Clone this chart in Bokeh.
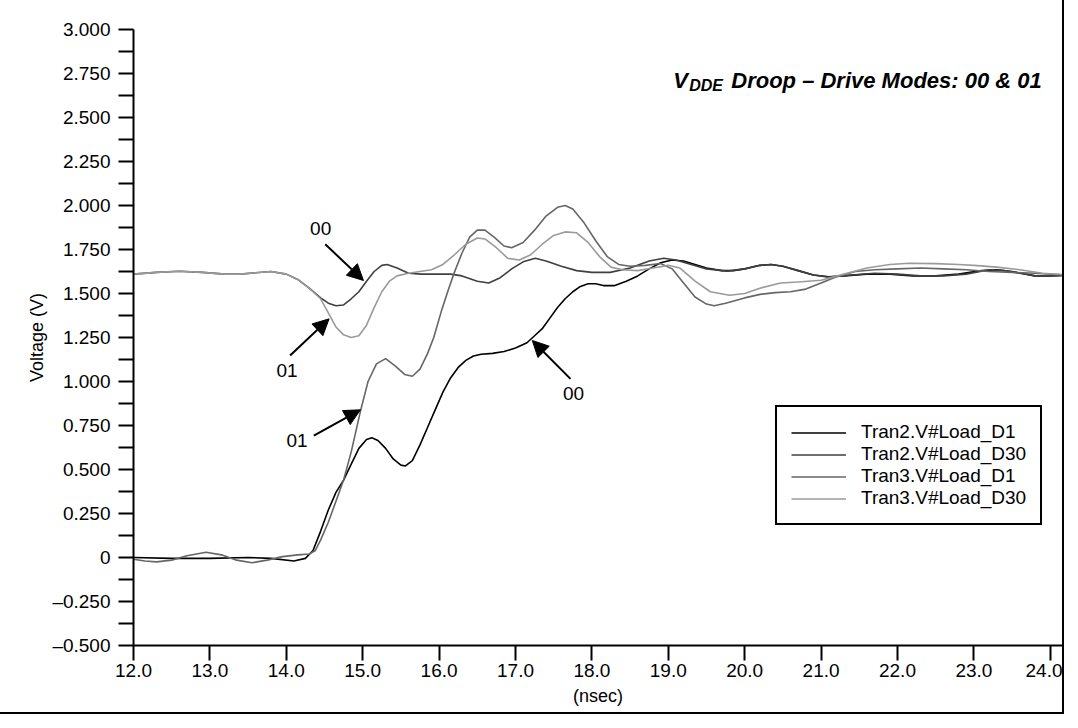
from bokeh.plotting import figure
from bokeh.models import (FixedTicker, Arrow, NormalHead, Legend, LegendItem,
                          Range1d, CustomJSTickFormatter)
from bokeh.embed import file_html
from bokeh.resources import INLINE
from bokeh.core.properties import value

# ---------------- data ----------------
t_tran2_d1 = [12.0, 12.5, 13.0, 13.5, 13.8, 14.1, 14.25, 14.35, 14.45, 14.55, 14.65, 14.75,
              14.85, 14.95, 15.05, 15.12, 15.2, 15.3, 15.4, 15.5, 15.56, 15.65, 15.75, 15.85,
              15.95, 16.05, 16.15, 16.25, 16.35, 16.45, 16.55, 16.7, 16.85, 17.0, 17.15, 17.25,
              17.35, 17.45, 17.55, 17.65, 17.75, 17.85, 17.95, 18.05, 18.15, 18.3, 18.45, 18.6,
              18.75, 18.9, 19.05, 19.2, 19.35, 19.5, 19.7, 19.85, 20.0, 20.2, 20.35, 20.5, 20.7,
              20.9, 21.1, 21.3, 21.6, 21.9, 22.2, 22.5, 22.8, 23.1, 23.3, 23.5, 23.8, 24.0, 24.24]
v_tran2_d1 = [0.0, -0.005, -0.005, 0.0, -0.005, -0.02, -0.005, 0.04, 0.15, 0.27, 0.37, 0.44,
              0.53, 0.62, 0.67, 0.68, 0.665, 0.62, 0.56, 0.525, 0.52, 0.55, 0.64, 0.74,
              0.84, 0.94, 1.02, 1.08, 1.12, 1.145, 1.155, 1.16, 1.17, 1.19, 1.22, 1.26,
              1.30, 1.36, 1.42, 1.47, 1.51, 1.54, 1.555, 1.555, 1.545, 1.545, 1.57, 1.60,
              1.64, 1.675, 1.69, 1.685, 1.665, 1.645, 1.63, 1.63, 1.64, 1.66, 1.665, 1.655, 1.63,
              1.605, 1.595, 1.60, 1.61, 1.61, 1.60, 1.60, 1.61, 1.63, 1.635, 1.625, 1.60, 1.60, 1.605]

t_tran2_d30 = [12.0, 12.3, 12.6, 12.9, 13.2, 13.4, 13.6, 13.8, 14.0, 14.15, 14.3, 14.45, 14.55,
               14.65, 14.75, 14.85, 14.95, 15.05, 15.15, 15.25, 15.32, 15.45, 15.6, 15.76, 16.0,
               16.15, 16.3, 16.5, 16.65, 16.8, 16.95, 17.1, 17.26, 17.4, 17.6, 17.8, 18.0, 18.24,
               18.5, 18.75, 18.94, 19.1, 19.3, 19.5, 19.77, 20.0, 20.2, 20.34, 20.5, 20.7, 20.9,
               21.1, 21.4, 21.7, 22.0, 22.3, 22.6, 22.9, 23.2, 23.4, 23.6, 23.8, 24.0, 24.24]
v_tran2_d30 = [1.61, 1.62, 1.626, 1.62, 1.61, 1.61, 1.618, 1.625, 1.61, 1.58, 1.53, 1.475, 1.445,
               1.43, 1.435, 1.47, 1.51, 1.57, 1.625, 1.66, 1.665, 1.645, 1.615, 1.61, 1.61,
               1.61, 1.60, 1.57, 1.56, 1.59, 1.64, 1.68, 1.70, 1.685, 1.655, 1.63, 1.62, 1.62,
               1.645, 1.685, 1.70, 1.69, 1.665, 1.64, 1.627, 1.64, 1.66, 1.665, 1.655, 1.63, 1.605,
               1.593, 1.605, 1.615, 1.61, 1.60, 1.60, 1.61, 1.635, 1.63, 1.615, 1.60, 1.60, 1.605]

t_tran3_d1 = [12.0, 12.15, 12.3, 12.5, 12.7, 12.95, 13.15, 13.35, 13.55, 13.75, 13.95, 14.15,
              14.3, 14.38, 14.45, 14.55, 14.65, 14.75, 14.85, 14.97, 15.07, 15.18, 15.3, 15.42,
              15.55, 15.65, 15.75, 15.85, 15.93, 16.03, 16.12, 16.2, 16.3, 16.4, 16.5, 16.6,
              16.72, 16.85, 16.95, 17.1, 17.25, 17.4, 17.55, 17.65, 17.75, 17.9, 18.05, 18.2,
              18.35, 18.5, 18.7, 18.9, 19.05, 19.2, 19.35, 19.5, 19.6, 19.75, 20.0, 20.2, 20.4,
              20.6, 20.8, 21.0, 21.2, 21.45, 21.7, 22.0, 22.3, 22.6, 22.9, 23.2, 23.5, 23.8, 24.0, 24.24]
v_tran3_d1 = [-0.01, -0.02, -0.025, -0.015, 0.01, 0.03, 0.015, -0.015, -0.03, -0.015, 0.005, 0.015,
              0.02, 0.04, 0.10, 0.20, 0.32, 0.44, 0.60, 0.83, 1.0, 1.10, 1.13, 1.09,
              1.04, 1.03, 1.07, 1.16, 1.25, 1.40, 1.52, 1.62, 1.73, 1.82, 1.86, 1.86,
              1.82, 1.77, 1.76, 1.79, 1.86, 1.94, 1.99, 2.0, 1.98, 1.90, 1.80, 1.71,
              1.665, 1.655, 1.66, 1.67, 1.64, 1.56, 1.48, 1.44, 1.43, 1.445, 1.475, 1.495, 1.505,
              1.51, 1.525, 1.56, 1.595, 1.625, 1.635, 1.64, 1.645, 1.64, 1.635, 1.625, 1.62, 1.615, 1.61, 1.605]

t_tran3_d30 = [12.0, 12.3, 12.6, 12.9, 13.2, 13.4, 13.6, 13.8, 14.0, 14.15, 14.3, 14.45, 14.55,
               14.65, 14.75, 14.85, 14.95, 15.05, 15.15, 15.25, 15.35, 15.45, 15.6, 15.75, 15.9,
               16.05, 16.2, 16.35, 16.5, 16.6, 16.75, 16.9, 17.05, 17.2, 17.35, 17.5, 17.65, 17.8,
               17.95, 18.1, 18.25, 18.4, 18.6, 18.8, 19.0, 19.15, 19.35, 19.55, 19.8, 20.0, 20.2,
               20.47, 20.7, 21.0, 21.3, 21.6, 21.9, 22.15, 22.5, 22.8, 23.0, 23.3, 23.6, 23.9, 24.24]
v_tran3_d30 = [1.61, 1.62, 1.626, 1.62, 1.61, 1.61, 1.618, 1.625, 1.61, 1.58, 1.53, 1.47, 1.39,
               1.31, 1.265, 1.25, 1.26, 1.32, 1.42, 1.51, 1.57, 1.60, 1.615, 1.625, 1.635,
               1.665, 1.72, 1.78, 1.815, 1.81, 1.76, 1.70, 1.69, 1.72, 1.78, 1.83, 1.85, 1.845,
               1.79, 1.71, 1.65, 1.635, 1.63, 1.645, 1.66, 1.645, 1.57, 1.51, 1.49, 1.50, 1.53,
               1.56, 1.565, 1.575, 1.61, 1.645, 1.665, 1.672, 1.67, 1.665, 1.66, 1.65, 1.635, 1.615, 1.605]

series_names = ["Tran2.V#Load_D1", "Tran2.V#Load_D30", "Tran3.V#Load_D1", "Tran3.V#Load_D30"]
series_colors = ["#000000", "#3f3f3f", "#666666", "#9a9a9a"]

x_ticks = [12.0, 13.0, 14.0, 15.0, 16.0, 17.0, 18.0, 19.0, 20.0, 21.0, 22.0, 23.0, 24.0]
y_ticks = [-0.5, -0.25, 0.0, 0.25, 0.5, 0.75, 1.0, 1.25, 1.5, 1.75, 2.0, 2.25, 2.5, 2.75, 3.0]
y_minor = [-0.375, -0.125, 0.125, 0.375, 0.625, 0.875, 1.125, 1.375, 1.625, 1.875, 2.125,
           2.375, 2.625, 2.875]

# annotations: label text, label position, arrow tail, arrow head
ann_text = ["00", "01", "01", "00"]
ann_label_x = [14.45, 14.01, 14.14, 17.76]
ann_label_y = [1.87, 1.06, 0.665, 0.93]
ann_tail_x = [14.51, 14.05, 14.36, 17.72]
ann_tail_y = [1.78, 1.148, 0.693, 1.015]
ann_head_x = [15.01, 14.56, 14.97, 17.22]
ann_head_y = [1.574, 1.356, 0.839, 1.233]

FONT = "Liberation Sans"

p = figure(width=1062, height=712, x_range=Range1d(12, 24.16), y_range=Range1d(-0.5, 3.0),
           output_backend="svg", toolbar_location=None,
           min_border_left=133, min_border_right=0, min_border_top=29, min_border_bottom=67)
p.outline_line_color = None
p.grid.visible = False
p.background_fill_color = "white"
p.border_fill_color = "white"
p.styles = {"outline": "2px solid black"}

# axes
for ax in (p.xaxis[0], p.yaxis[0]):
    ax.axis_line_width = 2
    ax.major_tick_line_width = 2
    ax.minor_tick_line_width = 2
    ax.major_tick_in = 0
    ax.major_tick_out = 15
    ax.minor_tick_in = 0
    ax.minor_tick_out = 15
    ax.major_label_text_font = FONT
    ax.major_label_text_font_size = "19px"
    ax.major_label_text_color = "black"
    ax.axis_label_text_font = FONT
    ax.axis_label_text_font_size = "18px"
    ax.axis_label_text_font_style = "normal"
    ax.axis_label_text_color = "black"

p.xaxis.ticker = FixedTicker(ticks=x_ticks, minor_ticks=[])
p.xaxis.formatter = CustomJSTickFormatter(code="return tick.toFixed(1);")
p.xaxis.minor_tick_line_color = None
p.xaxis.axis_label = "(nsec)"
p.xaxis.major_label_standoff = 3
p.xaxis.axis_label_standoff = 6

p.yaxis.ticker = FixedTicker(ticks=y_ticks, minor_ticks=y_minor)
p.yaxis.formatter = CustomJSTickFormatter(
    code="if (Math.abs(tick) < 1e-9) return '0'; var s = Math.abs(tick).toFixed(3); return tick < 0 ? '\u2013' + s : s;")
p.yaxis.axis_label = "Voltage (V)"
p.yaxis.major_label_standoff = 8
p.yaxis.axis_label_standoff = 2

# series
all_t = [t_tran2_d1, t_tran2_d30, t_tran3_d1, t_tran3_d30]
all_v = [v_tran2_d1, v_tran2_d30, v_tran3_d1, v_tran3_d30]
renderers = []
for t, v, c in zip(all_t, all_v, series_colors):
    renderers.append(p.line(t, v, line_color=c, line_width=1.6))

legend = Legend(items=[LegendItem(label=n, renderers=[r]) for n, r in zip(series_names, renderers)],
                location=(642, 120))
legend.border_line_color = "black"
legend.border_line_width = 2
legend.border_line_alpha = 1
legend.background_fill_color = "white"
legend.background_fill_alpha = 1
legend.label_text_font = FONT
legend.label_text_font_size = "19px"
legend.label_text_color = "black"
legend.glyph_width = 55
legend.glyph_height = 19
legend.label_height = 19
legend.spacing = 0
legend.padding = 14
legend.margin = 0
legend.label_standoff = 15
p.add_layout(legend)

# arrows + labels
for xs, ys, xe, ye in zip(ann_tail_x, ann_tail_y, ann_head_x, ann_head_y):
    p.add_layout(Arrow(end=NormalHead(size=16, fill_color="black", line_color="black"),
                       x_start=xs, y_start=ys, x_end=xe, y_end=ye,
                       line_color="black", line_width=2))
p.text(x=ann_label_x, y=ann_label_y, text=ann_text, text_font=value(FONT),
       text_font_size="19px", text_align="center", text_baseline="middle", text_color="black")

# title with subscript
title_x = 19.065
title_y = 2.71
p.text(x=[title_x], y=[title_y], text=["V"], text_font=value(FONT), text_font_size="22px",
       text_font_style="bold italic", text_baseline="alphabetic", text_align="left")
p.text(x=[title_x], y=[title_y], text=["DDE"], x_offset=16, y_offset=5, text_font=value(FONT),
       text_font_size="16px", text_font_style="bold italic", text_baseline="alphabetic",
       text_align="left")
p.text(x=[title_x], y=[title_y], text=["Droop \u2013 Drive Modes: 00 & 01"], x_offset=58,
       text_font=value(FONT), text_font_size="22px", text_font_style="bold italic",
       text_baseline="alphabetic", text_align="left")

open("out.html", "w").write(file_html(p, INLINE))
